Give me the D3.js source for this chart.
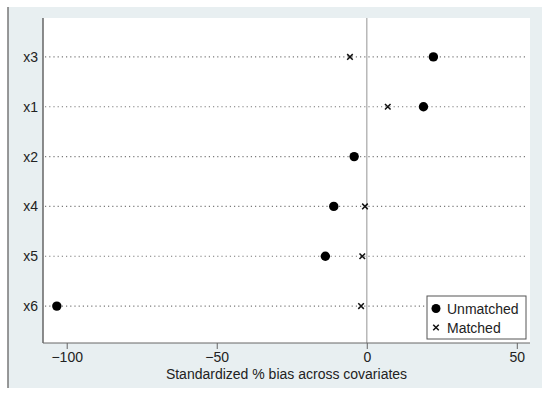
<!DOCTYPE html>
<html>
<head>
<meta charset="utf-8">
<script src="https://cdn.jsdelivr.net/npm/d3@7"></script>
<style>
  body { margin: 0; background: #fff; }
  text { font-family: "Liberation Sans", Arial, sans-serif; fill: #222; }
</style>
</head>
<body>
<div id="root"></div>
<script>
const width = 550;
const height = 397;

// covariates, top to bottom
const covariates = ["x3", "x1", "x2", "x4", "x5", "x6"];
// standardized % bias
const unmatched = [22.2, 18.9, -4.2, -11.0, -13.8, -103.3];
const matched = [-5.6, 7.0, -4.2, -0.6, -1.5, -1.9];
const xTicks = [-100, -50, 0, 50];
const xTitle = "Standardized % bias across covariates";
const legendLabels = ["Unmatched", "Matched"];

const plot = { left: 43, right: 530, top: 18, bottom: 343 };

const svg = d3.select("#root")
	.append("svg")
		.attr("width", width)
		.attr("height", height);

// outer panel
svg.append("rect")
	.attr("x", 8).attr("y", 7)
	.attr("width", 534).attr("height", 381)
	.style("fill", "#e8eff1");
svg.append("line")
	.attr("x1", 8).attr("x2", 8)
	.attr("y1", 7).attr("y2", 388)
	.style("stroke", "#777")
	.style("stroke-width", 1.5);

// plot area
svg.append("rect")
	.attr("x", plot.left).attr("y", plot.top)
	.attr("width", plot.right - plot.left).attr("height", plot.bottom - plot.top)
	.style("fill", "#fff");

const x = d3.scaleLinear()
	.domain([-107.9, 54.4])
	.range([plot.left, plot.right]);

const y = d3.scalePoint()
	.domain(covariates)
	.range([plot.top + 2, plot.bottom])
	.padding(0.74);

// dotted row lines
svg.append("g")
	.selectAll("line")
	.data(covariates).enter()
	.append("line")
		.attr("x1", plot.left + 2).attr("x2", plot.right - 2)
		.attr("y1", d => y(d)).attr("y2", d => y(d))
		.style("stroke", "#7a7a7a")
		.style("stroke-width", 1.2)
		.style("stroke-dasharray", "1.2,3");

// zero line
svg.append("line")
	.attr("x1", x(0)).attr("x2", x(0))
	.attr("y1", plot.top).attr("y2", plot.bottom)
	.style("stroke", "#b8b8b8")
	.style("stroke-width", 1.5);

// axes
const xAxis = svg.append("g")
	.attr("transform", `translate(0, ${plot.bottom})`)
	.call(d3.axisBottom(x).tickValues(xTicks).tickSize(6).tickPadding(3)
		.tickFormat(d => d < 0 ? "\u2212" + Math.abs(d) : d));
xAxis.select(".domain").attr("d", `M${plot.left},0H${plot.right}`).style("stroke", "#666");
xAxis.selectAll(".tick line").style("stroke", "#666");
xAxis.selectAll(".tick text").style("font-size", "14px").style("fill", "#222");

const yAxis = svg.append("g")
	.attr("transform", `translate(${plot.left}, 0)`)
	.call(d3.axisLeft(y).tickSize(0).tickPadding(5));
yAxis.select(".domain").attr("d", `M0,${plot.top}V${plot.bottom}`).style("stroke", "#666").style("stroke-width", 1.5);
yAxis.selectAll(".tick text").style("font-size", "14px").style("fill", "#222");

svg.append("text")
	.attr("x", (plot.left + plot.right) / 2)
	.attr("y", 379)
	.attr("text-anchor", "middle")
	.style("font-size", "14px")
	.text(xTitle);

// markers
const cross = d3.symbol().type(d3.symbolX).size(22);

svg.append("g")
	.selectAll("path")
	.data(covariates).enter()
	.append("path")
		.attr("d", cross)
		.attr("transform", (d, i) => `translate(${x(matched[i])}, ${y(d)})`)
		.style("stroke", "#111")
		.style("stroke-width", 1.5)
		.style("fill", "none");

svg.append("g")
	.selectAll("circle")
	.data(covariates).enter()
	.append("circle")
		.attr("cx", (d, i) => x(unmatched[i]))
		.attr("cy", d => y(d))
		.attr("r", 4.7)
		.style("fill", "#000");

// legend
const legend = svg.append("g").attr("transform", "translate(427, 296)");
legend.append("rect")
	.attr("width", 99).attr("height", 43)
	.style("fill", "#fff")
	.style("stroke", "#555");
legend.append("circle")
	.attr("cx", 9).attr("cy", 12.5).attr("r", 4.5)
	.style("fill", "#000");
legend.append("path")
	.attr("d", cross)
	.attr("transform", "translate(9, 31.5)")
	.style("stroke", "#111")
	.style("stroke-width", 1.5)
	.style("fill", "none");
legend.selectAll(".label")
	.data(legendLabels).enter()
	.append("text")
		.attr("class", "label")
		.attr("x", 20)
		.attr("y", (d, i) => 17.5 + i * 19)
		.style("font-size", "14px")
		.text(d => d);
</script>
</body>
</html>
